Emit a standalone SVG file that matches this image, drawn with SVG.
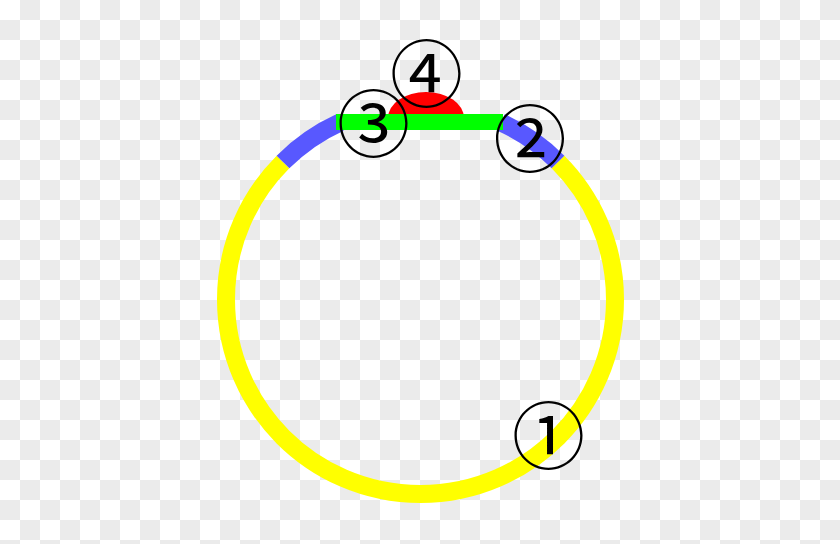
<svg xmlns="http://www.w3.org/2000/svg" width="840" height="544" viewBox="0 0 840 544">
  <defs>
    <pattern id="checker" width="40" height="40" patternUnits="userSpaceOnUse">
      <rect width="40" height="40" fill="#ffffff"/>
      <rect x="20" y="0" width="20" height="20" fill="#ebebeb"/>
      <rect x="0" y="20" width="20" height="20" fill="#ebebeb"/>
    </pattern>
    <style>
      .ring { fill: none; stroke-width: 18; stroke-linecap: butt; }
      .lbl { font-family: "Noto Sans CJK SC", "DejaVu Sans", sans-serif; font-size: 73px; fill: #000; text-anchor: middle; }
    </style>
  </defs>
  <rect width="840" height="544" fill="url(#checker)"/>
  <g id="shapes">
    <path id="yellow-arc" class="ring" stroke="#ffff00" d="M558,162 A194.5,194.5 0 1 1 283,162"/>
    <path id="blue-left" class="ring" stroke="#5858ff" d="M283,162 A194.5,194.5 0 0 1 339.9,122.5"/>
    <path id="blue-right" class="ring" stroke="#5858ff" d="M501.1,122.5 A194.5,194.5 0 0 1 558,162"/>
    <path id="red-dome" fill="#ff0000" d="M388,118 A38,26 0 0 1 464,118 Z"/>
    <line id="green-chord" x1="336" y1="122" x2="503" y2="122" stroke="#00ff00" stroke-width="16"/>
  </g>
  <g id="labels">
    <text id="label-1" class="lbl" x="548.5" y="463">①</text>
    <text id="label-2" class="lbl" x="530" y="166">②</text>
    <text id="label-3" class="lbl" x="373.5" y="151">③</text>
    <text id="label-4" class="lbl" x="426.5" y="101">④</text>
  </g>
</svg>
